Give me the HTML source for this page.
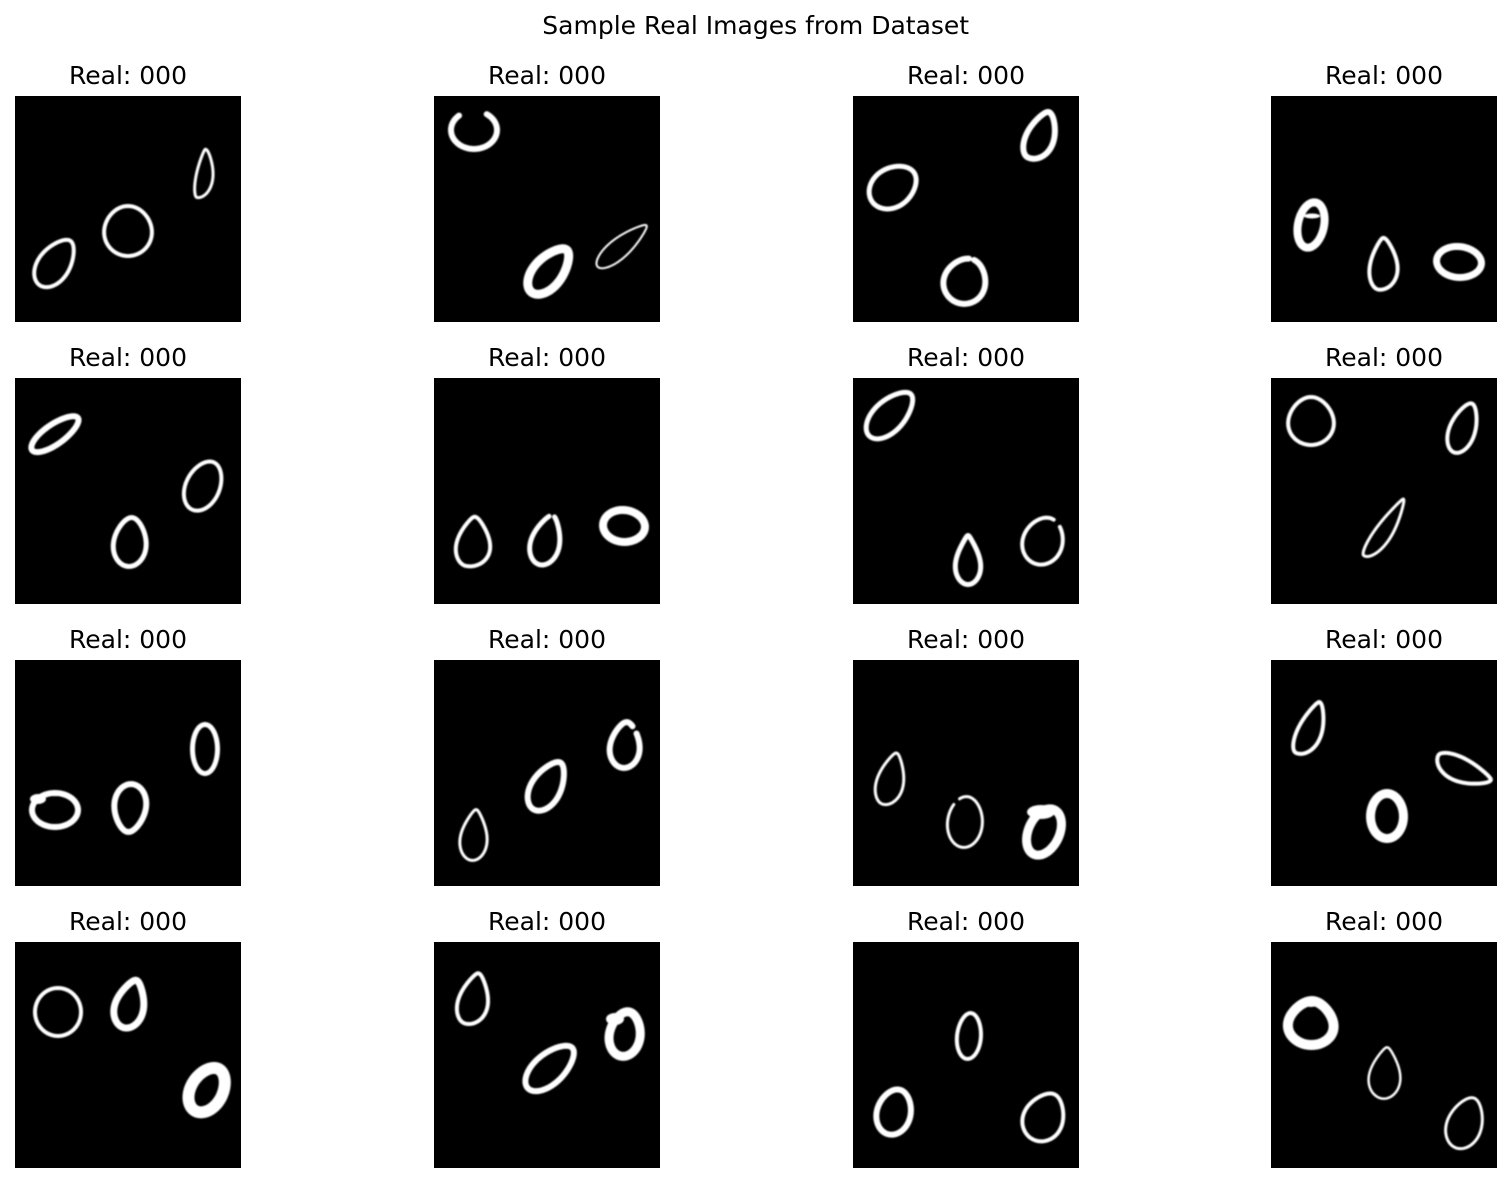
<!DOCTYPE html>
<html lang="en">
<head>
<meta charset="utf-8">
<title>Sample Real Images from Dataset</title>
<style>
html,body{margin:0;padding:0;background:#fff}
svg{display:block}
text{font-family:"DejaVu Sans","Liberation Sans",sans-serif;fill:#000}
.t{font-size:25px;text-anchor:middle}
</style>
</head>
<body>
<svg id="figure" width="1512" height="1183" viewBox="0 0 1512 1183" xmlns="http://www.w3.org/2000/svg">
<defs><filter id="soft" x="-5%" y="-5%" width="110%" height="110%"><feGaussianBlur stdDeviation="0.7"/></filter></defs>
<rect width="1512" height="1183" fill="#fff"/>
<text x="755.7" y="34" class="t">Sample Real Images from Dataset</text>
<text x="128" y="84" class="t">Real: 000</text>
<text x="547" y="84" class="t">Real: 000</text>
<text x="966" y="84" class="t">Real: 000</text>
<text x="1384" y="84" class="t">Real: 000</text>
<text x="128" y="366" class="t">Real: 000</text>
<text x="547" y="366" class="t">Real: 000</text>
<text x="966" y="366" class="t">Real: 000</text>
<text x="1384" y="366" class="t">Real: 000</text>
<text x="128" y="648" class="t">Real: 000</text>
<text x="547" y="648" class="t">Real: 000</text>
<text x="966" y="648" class="t">Real: 000</text>
<text x="1384" y="648" class="t">Real: 000</text>
<text x="128" y="930" class="t">Real: 000</text>
<text x="547" y="930" class="t">Real: 000</text>
<text x="966" y="930" class="t">Real: 000</text>
<text x="1384" y="930" class="t">Real: 000</text>
<g id="panels"></g>
</svg>
<script>
// Each panel holds three handwritten zeros, values read per panel in image units (0-226).
const digitX = [
  [40,113,190],[40,115,188],[188,40,112],[40,113,188],
  [40,188,115],[40,112,190],[37,115,190],[40,192,115],
  [40,115,190],[40,113,191],[38,112,191],[40,192,116],
  [43,115,192],[40,116,191],[116,41,191],[40,114,194]
];
const digitY = [
  [167,135,78],[34,175,150],[40,91,185],[129,168,166],
  [56,108,164],[164,162,148],[37,182,163],[43,50,151],
  [150,148,89],[175,126,85],[119,162,172],[69,111,156],
  [70,62,148],[57,126,92],[94,170,175],[81,131,181]
];
const digitLong = [
  [29,27,26],[26,32,33],[28,28,26],[27,28,26],
  [31,28,27],[27,28,25],[32,27,26],[26,28,36],
  [26,27,27],[27,30,26],[28,27,29],[30,31,27],
  [26,28,30],[28,33,27],[25,26,27],[27,27,28]
];
const digitShort = [
  [18,26,10],[22,19,11],[17,22,24],[17,16,19],
  [13,19,19],[19,17,20],[18,15,22],[25,15,10],
  [20,19,15],[15,18,18],[15,19,20],[14,14,21],
  [25,18,22],[17,18,20],[14,20,22],[28,17,19]
];
const digitAngle = [
  [-55,-90,-80],[0,-50,-40],[-65,-35,-70],[-78,-85,5],
  [-35,-65,-85],[-80,-75,5],[-45,-90,-70],[-90,-70,-55],
  [0,95,-90],[-85,-60,-85],[-75,-85,-65],[-65,25,-90],
  [-90,-75,-60],[-75,-42,-80],[-85,-75,-65],[-85,-85,-70]
];
const digitStroke = [
  [4,4,3],[6,9,2],[6,5,6],[8,4,7],
  [6,4,5],[4,5,8],[5,5,4],[4,4,3],
  [6,6,5],[3,6,6],[3,3,9],[4,4,9],
  [4,7,12],[4,6,9],[4,6,4],[10,2.5,3]
];
// How strongly the upper end of each zero narrows to a point.
const digitTip = [
  [0.3,0.1,0.5],[0,0.3,0.5],[0.4,0.15,0.2],[0,0.55,0.05],
  [0.1,0.1,0.3],[0.55,0.5,0.05],[0.25,0.7,0.15],[0.2,0.35,0.6],
  [0,0.3,0],[0.6,0.35,0.4],[0.55,0.1,0],[0.5,0.5,0.05],
  [0,0.5,0.1],[0.55,0.2,0.2],[0.1,0.15,0.3],[0.3,0.6,0.3]
];
// How flat one long side of each zero is.
const digitFlat = [
  [0,0,0.45],[0,0,0],[0.2,0,0],[0,0.2,0],
  [0,0,0],[0.2,0,0],[0,0,0],[0,0,0.35],
  [0,0,0],[0,0,0],[0.1,0,0],[0.3,0.3,0],
  [0,0,0],[0.15,0,0],[0,0,0],[0,0,0]
];
// Percent of the outline left open: [panel, digit, gap start, gap length]
const digitGaps = [[1,0,63,22],[2,2,97,4],[5,1,97,5],[6,2,2,7],[9,2,6,7],[10,1,88,6]];
// Heavy ink blobs: [panel, x, y, radius x, radius y]
const inkBlobs = [[10,188,152,14,7],[8,23,139,8,5],[3,41,120,8,2.5],[13,181,77,9,6],[15,40,60,8,5]];
const columnLeft = [15,434,853,1271];
const rowTop = [96,378,660,942];
const panelSize = 226;

const NS = 'http://www.w3.org/2000/svg';
const host = document.getElementById('panels');
const scale = v => v * panelSize / 226;

function zeroOutline(a, b, tip, flat) {
  const steps = 64;
  const norm = 1 - tip / 5;
  let d = '';
  for (let i = 0; i < steps; i++) {
    const t = (i / steps) * Math.PI * 2;
    const s = Math.sin(t), c = Math.cos(t);
    const narrow = (1 - tip * Math.pow((1 + c) / 2, 2)) / norm;
    const side = s >= 0 ? 1 + flat : 1 - flat;
    const x = a * c;
    const y = b * (side * s * narrow - flat);
    d += (i ? 'L' : 'M') + x.toFixed(2) + ' ' + y.toFixed(2);
  }
  return d + 'Z';
}

digitX.forEach((xs, p) => {
  const col = p % columnLeft.length;
  const row = Math.floor(p / columnLeft.length);
  const g = document.createElementNS(NS, 'g');
  
  
  g.setAttribute('transform', `translate(${columnLeft[col]},${rowTop[row]})`);
  const bg = document.createElementNS(NS, 'rect');
  
  
  bg.setAttribute('width', panelSize);
  bg.setAttribute('height', panelSize);
  bg.setAttribute('fill', '#000');
  g.appendChild(bg);
  const inner = document.createElementNS(NS, 'g');
  inner.setAttribute('filter', 'url(#soft)');
  xs.forEach((x, d) => {
    const sw = scale(digitStroke[p][d]);
    const e = document.createElementNS(NS, 'path');
    
    
    e.setAttribute('d', zeroOutline(scale(digitLong[p][d]) - sw / 2, scale(digitShort[p][d]) - sw / 2, digitTip[p][d], digitFlat[p][d]));
    e.setAttribute('fill', 'none');
    e.setAttribute('stroke', '#fff');
    e.setAttribute('stroke-width', sw);
    e.setAttribute('stroke-linejoin', 'round');
    e.setAttribute('transform', `translate(${scale(x)},${scale(digitY[p][d])}) rotate(${digitAngle[p][d]})`);
    const gap = digitGaps.find(v => v[0] === p && v[1] === d);
    if (gap) {
      e.setAttribute('pathLength', '100');
      e.setAttribute('stroke-dasharray', `${100 - gap[3]} ${gap[3]}`);
      e.setAttribute('stroke-dashoffset', -(gap[2] + gap[3]));
      e.setAttribute('stroke-linecap', 'round');
    }
    inner.appendChild(e);
  });
  inkBlobs.filter(v => v[0] === p).forEach(v => {
    const b = document.createElementNS(NS, 'ellipse');
    
    
    b.setAttribute('cx', scale(v[1]));
    b.setAttribute('cy', scale(v[2]));
    b.setAttribute('rx', scale(v[3]));
    b.setAttribute('ry', scale(v[4]));
    b.setAttribute('fill', '#fff');
    inner.appendChild(b);
  });
  g.appendChild(inner);
  host.appendChild(g);
});
</script>
</body>
</html>
